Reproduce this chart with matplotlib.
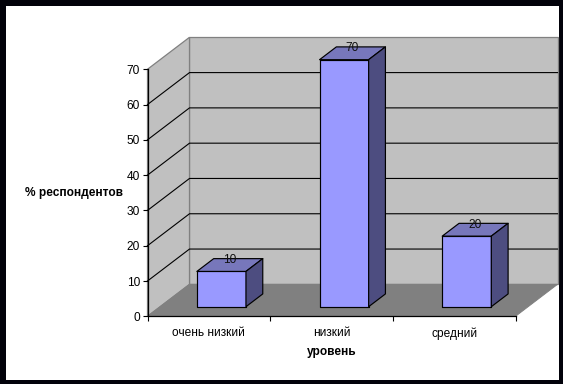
import matplotlib
matplotlib.use("Agg")
import matplotlib.pyplot as plt
from matplotlib.patches import Polygon, Rectangle

categories = ["очень низкий", "низкий", "средний"]
values = [10, 70, 20]
y_ticks = [0, 10, 20, 30, 40, 50, 60, 70]
y_label = "% респондентов"
x_label = "уровень"

W, H = 563, 384
L, R, B, T = 147.5, 557.5, 316.3, 37.3   # pixel box of the 3-D plot
DX = 42 / 122.67        # depth offset in category units
DY = 32 / 35.33 * 10    # depth offset in value units
BAR_W = 0.4
D0, D1 = 0.3, 0.7       # bar depth range

plt.rcParams["font.family"] = ["Liberation Sans", "DejaVu Sans"]
fig = plt.figure(figsize=(W / 100, H / 100), dpi=100, facecolor="#02020a")
fig.patches.append(Rectangle((6 / W, 1 - 380 / H), 552.7 / W, 374 / H,
                             transform=fig.transFigure, fc="white", ec="none", zorder=-5))
ax = fig.add_axes([L / W, 1 - B / H, (R - L) / W, (B - T) / H])
ymax = max(y_ticks)
n = len(categories)
ax.set_xlim(0, n + DX)
ax.set_ylim(0, ymax + DY)
ax.patch.set_visible(False)

# walls
ax.add_patch(Polygon([(DX, DY), (n + DX, DY), (n + DX, ymax + DY), (DX, ymax + DY)],
                     fc="#C0C0C0", ec="#808080", lw=0.9, zorder=1, clip_on=False))
ax.add_patch(Polygon([(0, 0), (DX, DY), (DX, ymax + DY), (0, ymax)],
                     fc="#C0C0C0", ec="#808080", lw=0.9, zorder=1, clip_on=False))
ax.add_patch(Polygon([(0, 0), (n, 0), (n + DX, DY), (DX, DY)],
                     fc="#808080", ec="#808080", lw=0.7, zorder=1, clip_on=False))
# gridlines
for v in y_ticks[1:-1]:
    ax.plot([0, DX, n + DX], [v, v + DY, v + DY], color="black", lw=0.8, zorder=2,
            solid_joinstyle="miter", clip_on=False)

# bars
EC = dict(ec="black", lw=0.85, joinstyle="round", clip_on=False)
for i, v in enumerate(values):
    c = i + 0.5
    x0, x1 = c - BAR_W / 2, c + BAR_W / 2
    fx0, fx1 = x0 + D0 * DX, x1 + D0 * DX
    fy0, fy1 = D0 * DY, v + D0 * DY
    bx, by = (D1 - D0) * DX, (D1 - D0) * DY
    ax.add_patch(Polygon([(fx0, fy0), (fx1, fy0), (fx1, fy1), (fx0, fy1)],
                         fc="#9999FF", zorder=3, **EC))
    ax.add_patch(Polygon([(fx0, fy1), (fx1, fy1), (fx1 + bx, fy1 + by), (fx0 + bx, fy1 + by)],
                         fc="#7777BB", zorder=3, **EC))
    ax.add_patch(Polygon([(fx1, fy0), (fx1 + bx, fy0 + by), (fx1 + bx, fy1 + by), (fx1, fy1)],
                         fc="#4D4D80", zorder=3, **EC))
    ax.annotate(str(v), (c + 0.5 * DX, v + D1 * DY), xytext=(0, -1.1),
                textcoords="offset points", ha="center", va="center",
                fontsize=8.6, color="#111111", zorder=4, annotation_clip=False)

# axes
for s in ("top", "right"):
    ax.spines[s].set_visible(False)
ax.spines["left"].set_bounds(0, ymax)
ax.spines["bottom"].set_bounds(0, n)
for s in ("left", "bottom"):
    ax.spines[s].set_linewidth(0.9)
    ax.spines[s].set_zorder(5)
ax.set_yticks(y_ticks)
ax.set_xticks(range(n + 1))
ax.set_xticklabels([])
ax.set_xticks([i + 0.5 for i in range(n)], minor=True)
ax.set_xticklabels(categories, minor=True)
ax.tick_params(axis="x", which="minor", length=0, pad=8, labelsize=8.6)
ax.tick_params(axis="x", which="major", length=3.6, width=0.8)
ax.tick_params(axis="y", length=3.6, width=0.8, pad=1.8, labelsize=8.6)

fig.text(74 / W, 1 - 193 / H, y_label, ha="center", va="center", fontsize=8.6, fontweight="bold")
fig.text(332 / W, 1 - 352 / H, x_label, ha="center", va="center", fontsize=8.6, fontweight="bold")

fig.savefig("out.png", dpi=100, facecolor=fig.get_facecolor())
